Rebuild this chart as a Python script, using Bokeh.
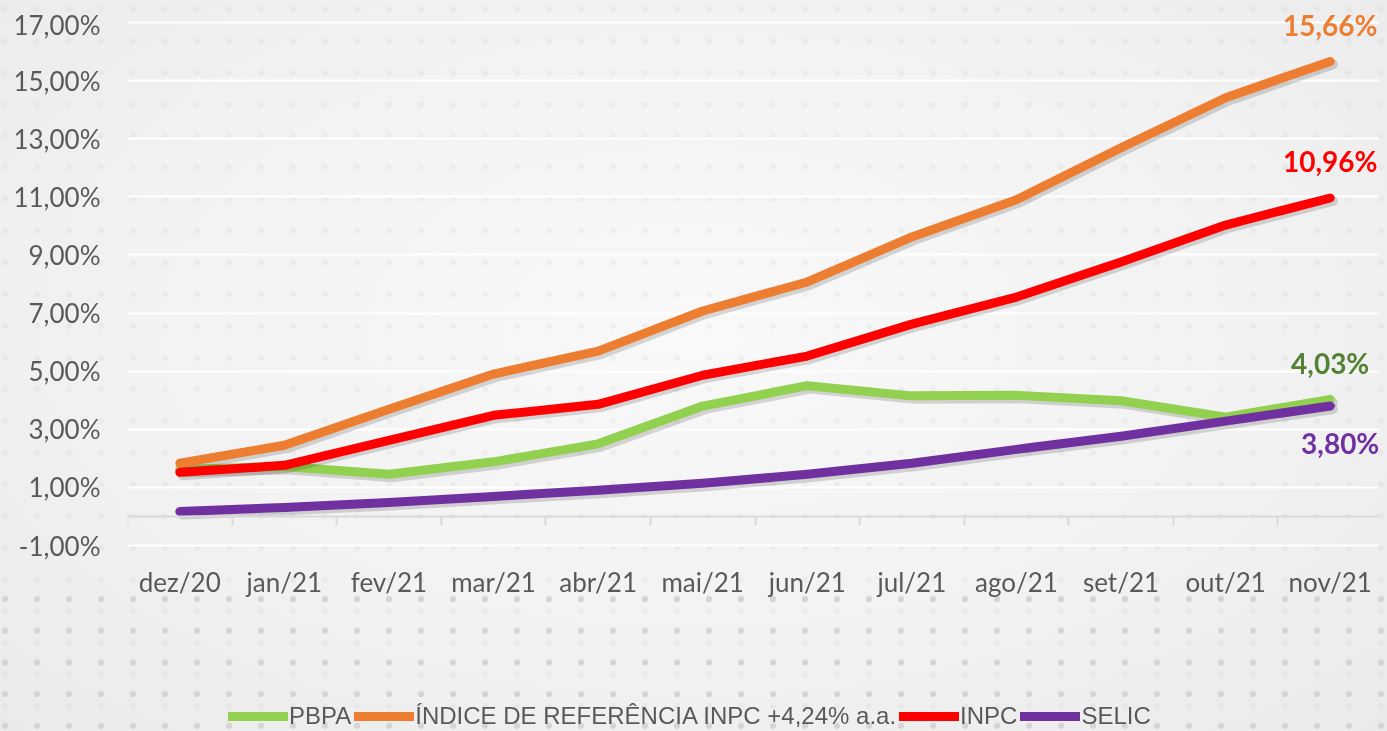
import numpy as np
from bokeh.plotting import figure
from bokeh.models import Range1d, FixedTicker, LinearAxis, Legend, LegendItem, ColumnDataSource
from bokeh.core.properties import value
from bokeh.embed import file_html
from bokeh.resources import INLINE

# ---------------- data ----------------
months = ["dez/20", "jan/21", "fev/21", "mar/21", "abr/21", "mai/21",
          "jun/21", "jul/21", "ago/21", "set/21", "out/21", "nov/21"]
pbpa = [1.62, 1.72, 1.45, 1.88, 2.50, 3.80, 4.50, 4.15, 4.17, 3.98, 3.42, 4.03]
indice = [1.83, 2.45, 3.69, 4.90, 5.69, 7.07, 8.07, 9.62, 10.90, 12.69, 14.41, 15.66]
inpc = [1.52, 1.76, 2.62, 3.48, 3.86, 4.86, 5.52, 6.62, 7.55, 8.76, 10.03, 10.96]
selic = [0.17, 0.31, 0.48, 0.69, 0.90, 1.14, 1.45, 1.83, 2.31, 2.76, 3.28, 3.80]
series_names = ["PBPA", "ÍNDICE DE REFERÊNCIA INPC +4,24% a.a.", "INPC", "SELIC"]
y_ticks = [-1, 1, 3, 5, 7, 9, 11, 13, 15, 17]
y_tick_labels = ["-1,00%", "1,00%", "3,00%", "5,00%", "7,00%", "9,00%",
                 "11,00%", "13,00%", "15,00%", "17,00%"]

# ---------------- styles ----------------
series_values = [pbpa, indice, inpc, selic]
line_colors = ["#92D050", "#ED7D31", "#FF0000", "#7030A0"]
label_colors = ["#548235", "#ED7D31", "#FF0000", "#7030A0"]
label_dx = [0, 0, 0, 10]
label_dy = [-36, -36, -37, 37]
txt_grey = "#595959"

n = len(months)
centers = [i + 0.5 for i in range(n)]
bounds = list(range(n + 1))
y_min, y_max = min(y_ticks), max(y_ticks)

# frame covers the whole figure height; the axes are pinned inside it
p = figure(width=1379, height=723, output_backend="svg", toolbar_location=None,
           x_range=Range1d(0, n), y_range=Range1d(y_min - 6.401, y_max + 0.482),
           min_border_left=119, min_border_right=5, min_border_top=0,
           min_border_bottom=0)
p.background_fill_color = None
p.border_fill_color = None
p.outline_line_color = None

# grid
p.xgrid.visible = False
p.ygrid.ticker = FixedTicker(ticks=y_ticks)
p.ygrid.grid_line_color = "white"
p.ygrid.grid_line_width = 2

# y axis
p.yaxis.ticker = FixedTicker(ticks=y_ticks)
p.yaxis.major_label_overrides = {t: l for t, l in zip(y_ticks, y_tick_labels)}
p.yaxis.axis_line_color = None
p.yaxis.major_tick_line_color = None
p.yaxis.minor_tick_line_color = None
p.yaxis.major_tick_out = 0
p.yaxis.major_label_standoff = 27
p.yaxis.major_label_text_font = "Lato"
p.yaxis.major_label_text_font_size = "26px"
p.yaxis.major_label_text_color = txt_grey

# x axis (category labels) pinned at the lowest gridline
xa = p.xaxis[0]
xa.fixed_location = y_min
xa.ticker = FixedTicker(ticks=centers)
xa.major_label_overrides = {c: m for c, m in zip(centers, months)}
xa.axis_line_color = None
xa.major_tick_line_color = None
xa.minor_tick_line_color = None
xa.major_tick_out = 0
xa.major_label_standoff = 20
xa.major_label_text_font = "Lato"
xa.major_label_text_font_size = "26px"
xa.major_label_text_color = txt_grey

# axis line at zero with boundary ticks
zero_axis = LinearAxis(fixed_location=0, ticker=FixedTicker(ticks=bounds),
                       major_label_overrides={b: "" for b in bounds},
                       axis_line_color="#d9d9d9", axis_line_width=2,
                       major_tick_line_color="#d9d9d9", major_tick_line_width=2,
                       major_tick_out=9, major_tick_in=0,
                       minor_tick_line_color=None)
p.add_layout(zero_axis, "below")

# lines with soft shadows
items = []
for name, vals, col in zip(series_names, series_values, line_colors):
    p.line([c + 0.025 for c in centers], [v - 0.1 for v in vals],
           line_color="black", line_alpha=0.15, line_width=10,
           line_cap="round", line_join="round")
    r = p.line(centers, vals, line_color=col, line_width=9,
               line_cap="round", line_join="round")
    items.append(LegendItem(label=name, renderers=[r]))

# end labels
last = [vals[-1] for vals in series_values]
src = ColumnDataSource(dict(
    x=[centers[-1]] * len(last), y=last,
    text=[f"{v:.2f}".replace(".", ",") + "%" for v in last],
    color=label_colors, dx=label_dx, dy=label_dy))
p.text(x="x", y="y", text="text", source=src, text_color="color",
       x_offset="dx", y_offset="dy", text_align="center", text_baseline="middle",
       text_font=value("Lato"), text_font_style="bold", text_font_size="28px")

legend = Legend(items=items, orientation="horizontal", location=(101, 1),
                label_text_font="Liberation Sans", label_text_font_size="24px",
                label_text_color=txt_grey, glyph_width=60, glyph_height=20,
                label_standoff=1, spacing=3, padding=0, margin=0,
                border_line_color=None, background_fill_alpha=0)
p.add_layout(legend, "center")

html = file_html(p, INLINE, title="PBPA")
css = """<style>
html{height:100%;background:radial-gradient(ellipse 75% 80% at 50% 45%, #f9f9f9 0%, #f1f1f1 60%, #e9e9e9 100%);}
body{margin:8px 8px 0 8px;overflow:hidden;background:transparent;}
body::before{content:"";position:fixed;left:0;top:0;right:0;bottom:0;z-index:-1;opacity:0.12;
 background-image:radial-gradient(circle, #b5b5b5 0 2.6px, transparent 3.3px);
 background-size:32px 31.7px;background-position:21px 25px;}
body::after{content:"";position:fixed;left:0;right:0;bottom:0;height:145px;z-index:-1;opacity:0.9;
 background-image:radial-gradient(circle, #d2d2d2 0 2.8px, transparent 3.5px);
 background-size:32px 31.7px;background-position:21px -2.8px;}
</style>"""
html = html.replace("</head>", css + "</head>")
open("out.html", "w").write(html)
